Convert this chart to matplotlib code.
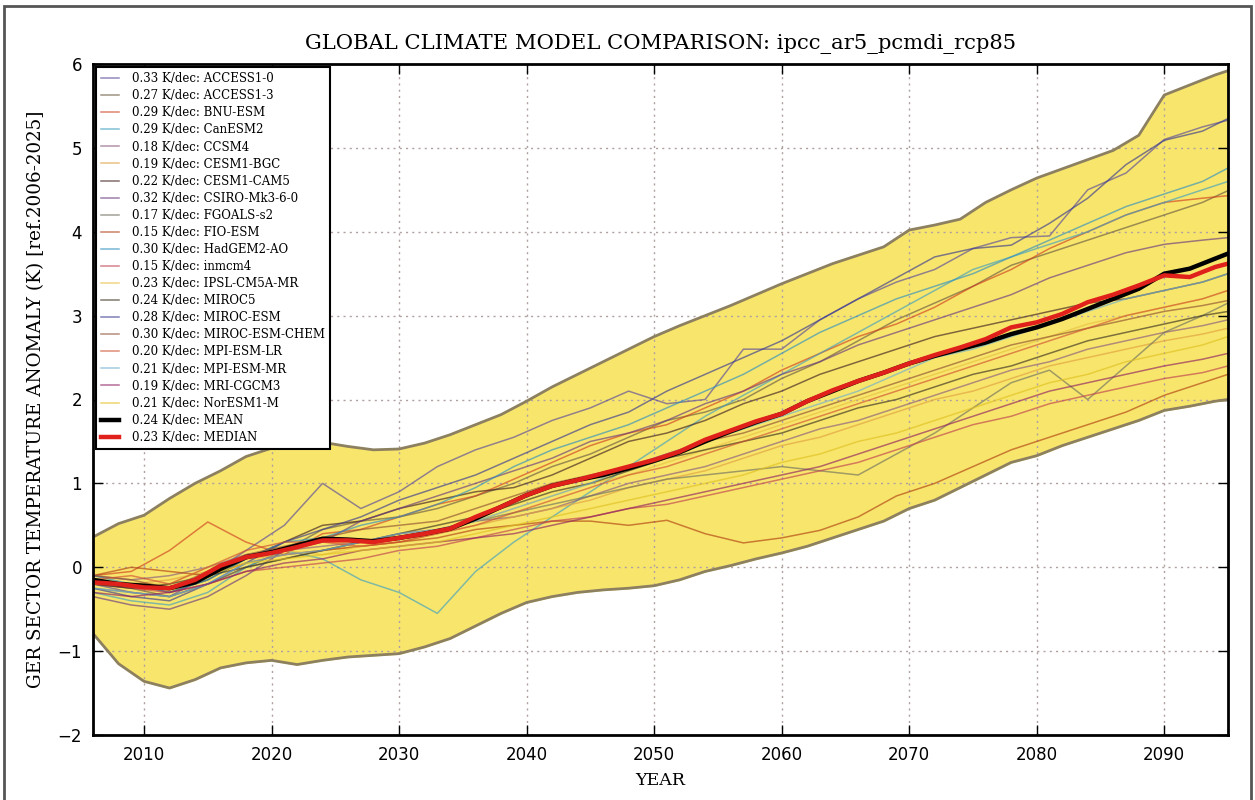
import numpy as np
import matplotlib
matplotlib.use("Agg")
import matplotlib.pyplot as plt
from matplotlib.patches import Rectangle

# ── model grid (3-yearly) and ensemble statistics grid (2-yearly) ─────────────
YEARS_M = [2006, 2009, 2012, 2015, 2018, 2021, 2024, 2027, 2030, 2033, 2036,
           2039, 2042, 2045, 2048, 2051, 2054, 2057, 2060, 2063, 2066, 2069,
           2072, 2075, 2078, 2081, 2084, 2087, 2090, 2093, 2095]
YEARS_S = list(range(2006, 2095, 2)) + [2095]

MODELS = ["ACCESS1-0", "ACCESS1-3", "BNU-ESM", "CanESM2", "CCSM4", "CESM1-BGC",
          "CESM1-CAM5", "CSIRO-Mk3-6-0", "FGOALS-s2", "FIO-ESM", "HadGEM2-AO",
          "inmcm4", "IPSL-CM5A-MR", "MIROC5", "MIROC-ESM", "MIROC-ESM-CHEM",
          "MPI-ESM-LR", "MPI-ESM-MR", "MRI-CGCM3", "NorESM1-M"]
TRENDS = [0.33, 0.27, 0.29, 0.29, 0.18, 0.19, 0.22, 0.32, 0.17, 0.15, 0.30,
          0.15, 0.23, 0.24, 0.28, 0.30, 0.20, 0.21, 0.19, 0.21]
COLORS = ["#5a4a9a", "#6a5a40", "#d04020", "#40a0c0", "#8a5a80", "#e0a040",
          "#402020", "#6a3a80", "#707060", "#b04010", "#3090c0", "#c04050",
          "#e8c040", "#3a3020", "#3a3a90", "#905030", "#d05030", "#70b0d0",
          "#902060", "#e0c020"]

access1_0 = [-0.20, -0.30, -0.35, -0.10, 0.20, 0.50, 1.00, 0.70, 0.90, 1.20, 1.40,
             1.55, 1.75, 1.90, 2.10, 1.95, 2.00, 2.60, 2.60, 2.95, 3.20, 3.40,
             3.55, 3.80, 3.93, 3.95, 4.50, 4.70, 5.10, 5.25, 5.33]
access1_3 = [-0.20, -0.25, -0.35, -0.20, 0.00, 0.20, 0.45, 0.55, 0.60, 0.70, 0.85,
             1.00, 1.20, 1.35, 1.55, 1.75, 1.85, 2.00, 2.25, 2.45, 2.70, 2.95,
             3.15, 3.35, 3.60, 3.75, 3.90, 4.05, 4.20, 4.35, 4.49]
bnu_esm = [-0.10, -0.05, 0.20, 0.54, 0.30, 0.15, 0.40, 0.45, 0.60, 0.75, 0.85,
           1.05, 1.25, 1.45, 1.60, 1.70, 1.90, 2.10, 2.35, 2.55, 2.75, 2.90,
           3.10, 3.35, 3.55, 3.80, 4.00, 4.20, 4.35, 4.40, 4.43]
canesm2 = [-0.30, -0.40, -0.45, -0.30, 0.00, 0.20, 0.10, -0.15, -0.30, -0.55, -0.05,
           0.30, 0.60, 0.90, 1.20, 1.50, 1.80, 2.05, 2.30, 2.55, 2.80, 3.05,
           3.30, 3.55, 3.70, 3.85, 4.00, 4.20, 4.35, 4.50, 4.60]
ccsm4 = [-0.10, -0.15, -0.10, 0.00, 0.15, 0.20, 0.25, 0.30, 0.40, 0.45, 0.55,
         0.60, 0.70, 0.85, 1.00, 1.10, 1.20, 1.35, 1.50, 1.65, 1.75, 1.90,
         2.05, 2.20, 2.35, 2.45, 2.60, 2.70, 2.80, 2.88, 2.95]
cesm1_bgc = [-0.15, -0.20, -0.15, -0.05, 0.10, 0.15, 0.20, 0.25, 0.30, 0.40, 0.50,
             0.60, 0.70, 0.80, 0.95, 1.05, 1.15, 1.30, 1.45, 1.55, 1.70, 1.85,
             2.00, 2.10, 2.25, 2.40, 2.50, 2.60, 2.70, 2.78, 2.85]
cesm1_cam5 = [-0.20, -0.20, -0.30, -0.15, 0.10, 0.30, 0.50, 0.55, 0.70, 0.80, 0.90,
              0.95, 1.10, 1.30, 1.50, 1.60, 1.75, 1.95, 2.10, 2.30, 2.45, 2.60,
              2.75, 2.85, 2.95, 3.05, 3.15, 3.20, 3.30, 3.40, 3.50]
csiro = [-0.35, -0.45, -0.50, -0.35, -0.10, 0.20, 0.30, 0.55, 0.70, 0.85, 1.00,
         1.15, 1.30, 1.50, 1.60, 1.75, 1.95, 2.10, 2.30, 2.45, 2.65, 2.80,
         2.95, 3.10, 3.25, 3.45, 3.60, 3.75, 3.85, 3.90, 3.93]
fgoals_s2 = [-0.25, -0.30, -0.35, -0.20, 0.00, 0.10, 0.20, 0.30, 0.35, 0.45, 0.55,
             0.65, 0.75, 0.85, 0.95, 1.05, 1.10, 1.15, 1.20, 1.15, 1.10, 1.35,
             1.60, 1.90, 2.20, 2.35, 2.00, 2.40, 2.80, 3.00, 3.15]
fio_esm = [-0.10, 0.00, -0.05, -0.10, 0.05, 0.15, 0.20, 0.25, 0.30, 0.35, 0.45,
           0.50, 0.55, 0.55, 0.50, 0.56, 0.40, 0.29, 0.35, 0.44, 0.60, 0.85,
           1.00, 1.20, 1.40, 1.55, 1.70, 1.85, 2.05, 2.20, 2.30]
hadgem2_ao = [-0.10, -0.20, -0.30, -0.15, 0.10, 0.30, 0.35, 0.50, 0.60, 0.75, 0.95,
              1.20, 1.40, 1.55, 1.70, 1.90, 2.10, 2.30, 2.55, 2.80, 3.00, 3.20,
              3.35, 3.50, 3.70, 3.90, 4.10, 4.30, 4.45, 4.60, 4.76]
inmcm4 = [-0.20, -0.25, -0.30, -0.20, -0.05, 0.00, 0.05, 0.10, 0.20, 0.25, 0.35,
          0.45, 0.55, 0.60, 0.70, 0.75, 0.85, 0.95, 1.05, 1.15, 1.25, 1.40,
          1.55, 1.70, 1.80, 1.95, 2.05, 2.15, 2.25, 2.32, 2.40]
ipsl_cm5a_mr = [-0.15, -0.20, -0.20, 0.00, 0.10, 0.20, 0.15, 0.25, 0.35, 0.45, 0.55,
                0.70, 0.85, 1.00, 1.10, 1.25, 1.40, 1.55, 1.70, 1.85, 2.00, 2.15,
                2.30, 2.45, 2.60, 2.75, 2.90, 3.00, 3.10, 3.20, 3.30]
miroc5 = [-0.20, -0.25, -0.20, -0.10, 0.00, 0.10, 0.20, 0.30, 0.40, 0.50, 0.60,
          0.75, 0.90, 1.00, 1.15, 1.30, 1.40, 1.50, 1.60, 1.75, 1.90, 2.00,
          2.15, 2.30, 2.40, 2.55, 2.70, 2.80, 2.90, 3.00, 3.05]
miroc_esm = [-0.25, -0.35, -0.40, -0.20, 0.05, 0.30, 0.45, 0.60, 0.80, 0.95, 1.10,
             1.30, 1.50, 1.70, 1.85, 2.10, 2.30, 2.50, 2.70, 2.95, 3.20, 3.45,
             3.70, 3.80, 3.84, 4.10, 4.40, 4.80, 5.09, 5.20, 5.35]
miroc_esm_chem = [-0.10, -0.15, -0.25, -0.05, 0.15, 0.25, 0.35, 0.45, 0.50, 0.55, 0.70,
                  0.85, 1.00, 1.10, 1.20, 1.35, 1.50, 1.60, 1.75, 1.90, 2.05, 2.20,
                  2.35, 2.50, 2.65, 2.75, 2.85, 2.95, 3.05, 3.12, 3.18]
mpi_esm_lr = [-0.15, -0.10, -0.20, 0.00, 0.20, 0.30, 0.30, 0.25, 0.30, 0.40, 0.50,
              0.65, 0.80, 0.95, 1.10, 1.20, 1.35, 1.50, 1.65, 1.80, 1.95, 2.10,
              2.25, 2.40, 2.55, 2.70, 2.85, 3.00, 3.10, 3.20, 3.30]
mpi_esm_mr = [-0.25, -0.30, -0.35, -0.20, 0.05, 0.15, 0.20, 0.30, 0.40, 0.45, 0.55,
              0.70, 0.85, 1.00, 1.20, 1.35, 1.50, 1.65, 1.80, 1.95, 2.10, 2.30,
              2.50, 2.60, 2.75, 2.90, 3.05, 3.20, 3.30, 3.40, 3.50]
mri_cgcm3 = [-0.30, -0.35, -0.30, -0.20, -0.05, 0.05, 0.10, 0.20, 0.25, 0.30, 0.35,
             0.40, 0.50, 0.60, 0.70, 0.80, 0.90, 1.00, 1.10, 1.20, 1.35, 1.50,
             1.65, 1.80, 1.95, 2.10, 2.20, 2.30, 2.40, 2.48, 2.55]
noresm1_m = [-0.20, -0.20, -0.25, -0.10, 0.05, 0.10, 0.15, 0.20, 0.25, 0.30, 0.40,
             0.50, 0.60, 0.70, 0.80, 0.90, 1.00, 1.10, 1.25, 1.35, 1.50, 1.60,
             1.75, 1.90, 2.05, 2.20, 2.30, 2.45, 2.55, 2.65, 2.75]

RUNS = [access1_0, access1_3, bnu_esm, canesm2, ccsm4, cesm1_bgc, cesm1_cam5,
        csiro, fgoals_s2, fio_esm, hadgem2_ao, inmcm4, ipsl_cm5a_mr, miroc5,
        miroc_esm, miroc_esm_chem, mpi_esm_lr, mpi_esm_mr, mri_cgcm3, noresm1_m]

# ensemble envelope, mean and median
upper = [0.36, 0.52, 0.62, 0.82, 1.00, 1.15, 1.32, 1.42, 1.48, 1.49, 1.44, 1.40,
         1.41, 1.48, 1.58, 1.70, 1.82, 1.98, 2.15, 2.30, 2.45, 2.60, 2.75, 2.88,
         3.00, 3.12, 3.25, 3.38, 3.50, 3.62, 3.72, 3.82, 4.02, 4.08, 4.15, 4.35,
         4.50, 4.64, 4.75, 4.86, 4.97, 5.15, 5.63, 5.75, 5.87, 5.92]
lower = [-0.79, -1.15, -1.36, -1.44, -1.34, -1.20, -1.14, -1.11, -1.16, -1.11,
         -1.07, -1.05, -1.03, -0.95, -0.85, -0.70, -0.55, -0.42, -0.35, -0.30,
         -0.27, -0.25, -0.22, -0.15, -0.05, 0.02, 0.10, 0.17, 0.25, 0.35, 0.45,
         0.55, 0.70, 0.80, 0.95, 1.10, 1.25, 1.33, 1.45, 1.55, 1.65, 1.75, 1.87,
         1.92, 1.98, 2.00]
mean = [-0.15, -0.20, -0.22, -0.25, -0.18, -0.02, 0.12, 0.18, 0.26, 0.34, 0.33,
        0.31, 0.35, 0.40, 0.46, 0.58, 0.72, 0.86, 0.97, 1.04, 1.10, 1.18, 1.27,
        1.37, 1.50, 1.62, 1.73, 1.83, 1.98, 2.10, 2.22, 2.32, 2.43, 2.52, 2.60,
        2.68, 2.78, 2.86, 2.96, 3.08, 3.20, 3.32, 3.50, 3.56, 3.68, 3.74]
median = [-0.18, -0.20, -0.24, -0.25, -0.15, 0.02, 0.12, 0.17, 0.24, 0.32, 0.32,
          0.30, 0.35, 0.40, 0.46, 0.60, 0.72, 0.86, 0.97, 1.04, 1.12, 1.20, 1.28,
          1.38, 1.52, 1.63, 1.74, 1.83, 1.98, 2.11, 2.22, 2.32, 2.43, 2.53, 2.62,
          2.72, 2.86, 2.92, 3.02, 3.16, 3.25, 3.36, 3.48, 3.46, 3.58, 3.62]

# ── plot ──────────────────────────────────────────────────────────────────────
plt.rcParams["xtick.direction"] = "in"
plt.rcParams["ytick.direction"] = "in"
plt.rcParams["xtick.top"] = True
plt.rcParams["ytick.right"] = True

fig = plt.figure(figsize=(12.55, 8), dpi=100)
ax = fig.add_axes([0.0741, 0.08125, 0.9044, 0.83875])

ax.fill_between(YEARS_S, lower, upper, color="#f8e66c", zorder=1)
ax.plot(YEARS_S, upper, color="#8c8060", lw=2, zorder=2)
ax.plot(YEARS_S, lower, color="#8c8060", lw=2, zorder=2)

for name, trend, col, run in zip(MODELS, TRENDS, COLORS, RUNS):
    ax.plot(YEARS_M, run, color=col, lw=1.1, alpha=0.65, zorder=3,
            label=f"{trend:.2f} K/dec: {name}")

ax.plot(YEARS_S, mean, color="black", lw=3.2, zorder=4, label="0.24 K/dec: MEAN")
ax.plot(YEARS_S, median, color="#e0201a", lw=3.2, zorder=5, label="0.23 K/dec: MEDIAN")

ax.set_xlim(2006, 2095)
ax.set_ylim(-2, 6)
ax.set_xticks(range(2010, 2091, 10))
ax.set_yticks(range(-2, 7))
ax.tick_params(labelsize=12, length=7, width=1, pad=8)
ax.grid(True, color="#b0a0a0", linestyle=(0, (1.5, 3)), linewidth=1)
for sp in ax.spines.values():
    sp.set_linewidth(2)
    sp.set_zorder(6)

serif = "DejaVu Serif"
ax.set_title("GLOBAL CLIMATE MODEL COMPARISON: ipcc_ar5_pcmdi_rcp85",
             fontsize=15.2, family=serif, pad=11)
ax.set_xlabel("YEAR", fontsize=12.5, family=serif, labelpad=6)
ax.set_ylabel("GER SECTOR TEMPERATURE ANOMALY (K) [ref.2006-2025]",
              fontsize=13.2, family=serif, labelpad=9)

leg = ax.legend(loc="upper left", prop={"family": serif, "size": 8.5},
                fancybox=False, framealpha=1, edgecolor="black",
                borderaxespad=0.25, labelspacing=0.345, handlelength=1.5,
                handletextpad=1.1, borderpad=0.45)
leg.get_frame().set_linewidth(1.5)
leg.set_zorder(7)

# outer frame around the figure
fig.patches.append(Rectangle((0.003, -0.01), 0.994, 1.003, transform=fig.transFigure,
                             fill=False, edgecolor="#555555", lw=2))

plt.savefig("out.png", dpi=100)
